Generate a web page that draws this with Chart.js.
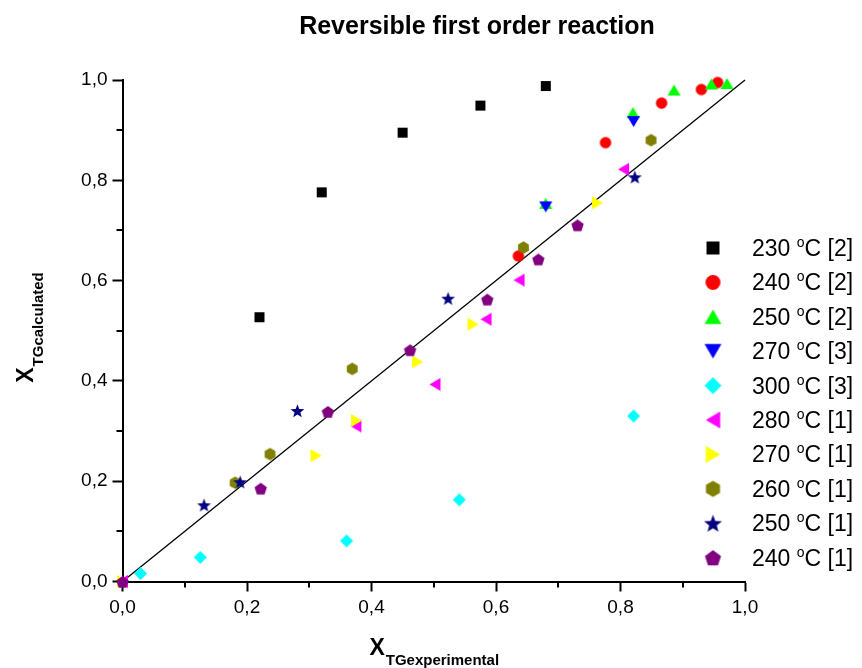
<!DOCTYPE html>
<html>
<head>
<meta charset="utf-8">
<script src="https://cdn.jsdelivr.net/npm/chart.js@4.4.0/dist/chart.umd.min.js"></script>
<style>
  html, body { margin: 0; padding: 0; background: #fff; }
  canvas { display: block; }
</style>
</head>
<body>
<canvas id="chart" width="862" height="668"></canvas>
<script>
'use strict'

// series, in legend order
const temps = [230, 240, 250, 270, 300, 280, 270, 260, 250, 240]
const refs = [2, 2, 2, 3, 3, 1, 1, 1, 1, 1]
const colors = ['#000000', '#ff0000', '#00ff00', '#0000ff', '#00ffff', '#ff00ff', '#ffff00', '#808000', '#000080', '#800080']
const shapes = ['square', 'circle', 'up', 'down', 'diamond', 'left', 'right', 'hexagon', 'star', 'pentagon']

const x230_2 = [0.220, 0.320, 0.450, 0.575, 0.680]
const y230_2 = [0.527, 0.776, 0.895, 0.949, 0.988]

const x240_2 = [0.636, 0.776, 0.866, 0.930, 0.956]
const y240_2 = [0.649, 0.875, 0.954, 0.981, 0.995]

const x250_2 = [0.680, 0.820, 0.886, 0.946, 0.971]
const y250_2 = [0.754, 0.935, 0.980, 0.992, 0.993]

const x270_3 = [0.680, 0.821]
const y270_3 = [0.747, 0.917]

const x300_3 = [0.029, 0.125, 0.360, 0.541, 0.821]
const y300_3 = [0.016, 0.048, 0.081, 0.163, 0.330]

const x280_1 = [0.000, 0.375, 0.502, 0.584, 0.637, 0.805]
const y280_1 = [0.000, 0.310, 0.393, 0.523, 0.601, 0.822]

const x270_1 = [0.000, 0.311, 0.376, 0.474, 0.563, 0.763]
const y270_1 = [0.000, 0.251, 0.321, 0.438, 0.513, 0.755]

const x260_1 = [0.181, 0.237, 0.369, 0.644, 0.849]
const y260_1 = [0.197, 0.254, 0.424, 0.666, 0.880]

const x250_1 = [0.131, 0.189, 0.281, 0.523, 0.823]
const y250_1 = [0.153, 0.199, 0.341, 0.565, 0.807]

const x240_1 = [0.000, 0.222, 0.330, 0.462, 0.586, 0.668, 0.731]
const y240_1 = [0.000, 0.186, 0.339, 0.462, 0.563, 0.643, 0.711]

const xs = [x230_2, x240_2, x250_2, x270_3, x300_3, x280_1, x270_1, x260_1, x250_1, x240_1]
const ys = [y230_2, y240_2, y250_2, y270_3, y300_3, y280_1, y270_1, y260_1, y250_1, y240_1]

// y = x reference line
const lineX = [0, 1]
const lineY = [0, 1]

const majorTicks = [0, 0.2, 0.4, 0.6, 0.8, 1.0]
const minorTicks = [0.1, 0.3, 0.5, 0.7, 0.9]

const FONT = '"Liberation Sans", Arial, Helvetica, sans-serif'

const markerSize = {square: 10, circle: 11.5, up: 13, down: 13, diamond: 13, left: 13, right: 13, hexagon: 12.5, star: 14.5, pentagon: 13}

function makeMarker(shape, color, s) {
    const c = document.createElement('canvas')
    c.width = c.height = Math.ceil(s) + 4
    const g = c.getContext('2d')
    const m = c.width / 2
    const h = s / 2
    g.fillStyle = color
    g.beginPath()
    if (shape === 'square') {
        g.rect(m - h, m - h, s, s)
    } else if (shape === 'circle') {
        g.arc(m, m, h, 0, Math.PI * 2)
    } else if (shape === 'up') {
        g.moveTo(m, m - h * 0.85); g.lineTo(m + h, m + h * 0.85); g.lineTo(m - h, m + h * 0.85)
    } else if (shape === 'down') {
        g.moveTo(m, m + h * 0.85); g.lineTo(m + h, m - h * 0.85); g.lineTo(m - h, m - h * 0.85)
    } else if (shape === 'left') {
        g.moveTo(m - h * 0.85, m); g.lineTo(m + h * 0.85, m - h); g.lineTo(m + h * 0.85, m + h)
    } else if (shape === 'right') {
        g.moveTo(m + h * 0.85, m); g.lineTo(m - h * 0.85, m - h); g.lineTo(m - h * 0.85, m + h)
    } else if (shape === 'diamond') {
        g.moveTo(m, m - h); g.lineTo(m + h, m); g.lineTo(m, m + h); g.lineTo(m - h, m)
    } else if (shape === 'hexagon') {
        for (let k = 0; k < 6; k++) {
            const a = -Math.PI / 2 + k * Math.PI / 3
            g.lineTo(m + h * Math.cos(a), m + h * Math.sin(a))
        }
    } else if (shape === 'pentagon') {
        for (let k = 0; k < 5; k++) {
            const a = -Math.PI / 2 + k * 2 * Math.PI / 5
            g.lineTo(m + h * Math.cos(a), m + 1 + h * Math.sin(a))
        }
    } else if (shape === 'star') {
        for (let k = 0; k < 10; k++) {
            const a = -Math.PI / 2 + k * Math.PI / 5
            const r = k % 2 === 0 ? h : h * 0.42
            g.lineTo(m + r * Math.cos(a), m + 1 + r * Math.sin(a))
        }
    }
    g.closePath()
    g.fill()
    return c
}

const pointMarkers = shapes.map((s, i) => makeMarker(s, colors[i], markerSize[s]))
const legendMarkers = shapes.map((s, i) => makeMarker(s, colors[i], markerSize[s] * 1.3))

const datasets = xs.map((xv, i) => ({
    type: 'scatter',
    label: temps[i] + ' °C [' + refs[i] + ']',
    data: xv.map((x, j) => ({x: x, y: ys[i][j]})),
    pointStyle: pointMarkers[i],
    pointRadius: 6,
    clip: false,
    order: xs.length - i   // later series on top
}))

datasets.push({
    type: 'line',
    label: 'y = x',
    data: lineX.map((x, j) => ({x: x, y: lineY[j]})),
    borderColor: '#000',
    borderWidth: 1.3,
    pointRadius: 0,
    fill: false,
    clip: false,
    order: 100
})

const decorations = {
    id: 'decorations',
    afterDraw(chart) {
        const {ctx, chartArea, scales} = chart
        ctx.save()

        // minor ticks
        ctx.strokeStyle = '#000'
        ctx.lineWidth = 2
        minorTicks.forEach(v => {
            const px = Math.round(scales.x.getPixelForValue(v))
            ctx.beginPath(); ctx.moveTo(px, chartArea.bottom); ctx.lineTo(px, chartArea.bottom + 6); ctx.stroke()
            const py = Math.round(scales.y.getPixelForValue(v))
            ctx.beginPath(); ctx.moveTo(chartArea.left, py); ctx.lineTo(chartArea.left - 6, py); ctx.stroke()
        })

        ctx.fillStyle = '#000'
        ctx.textBaseline = 'alphabetic'

        // title
        ctx.font = 'bold 25px ' + FONT
        ctx.textAlign = 'center'
        ctx.fillText('Reversible first order reaction', 477, 34)

        // x axis title with subscript
        ctx.textAlign = 'left'
        ctx.font = 'bold 23px ' + FONT
        const wX = ctx.measureText('X').width
        ctx.font = 'bold 15px ' + FONT
        const wSubX = ctx.measureText('TGexperimental').width
        let sx = (chartArea.left + chartArea.right) / 2 - (wX + wSubX) / 2
        ctx.font = 'bold 23px ' + FONT
        ctx.fillText('X', sx, 655)
        ctx.font = 'bold 15px ' + FONT
        ctx.fillText('TGexperimental', sx + wX + 1, 665)

        // y axis title, rotated
        ctx.font = 'bold 15px ' + FONT
        const wSubY = ctx.measureText('TGcalculated').width
        ctx.save()
        ctx.translate(33, 328 + (wX + wSubY) / 2)
        ctx.rotate(-Math.PI / 2)
        ctx.font = 'bold 23px ' + FONT
        ctx.fillText('X', 0, 0)
        ctx.font = 'bold 15px ' + FONT
        ctx.fillText('TGcalculated', wX + 1, 10)
        ctx.restore()

        // legend
        chart.data.datasets.forEach((ds, i) => {
            if (i >= temps.length) return
            const y = 248 + i * 34.4
            const mk = legendMarkers[i]
            ctx.drawImage(mk, 713 - mk.width / 2, y - mk.height / 2)
            let tx = 752
            ctx.font = '23px ' + FONT
            const t1 = temps[i] + ' '
            ctx.fillText(t1, tx, y + 8)
            tx += ctx.measureText(t1).width
            ctx.font = '14px ' + FONT
            ctx.fillText('o', tx, y - 1)
            tx += ctx.measureText('o').width
            ctx.font = '23px ' + FONT
            ctx.fillText('C [' + refs[i] + ']', tx, y + 8)
        })

        ctx.restore()
    }
}

const tickFormat = v => v.toFixed(1).replace('.', ',')

new Chart(document.getElementById('chart'), {
    data: {datasets: datasets},
    options: {
        responsive: false,
        animation: false,
        devicePixelRatio: 1,
        events: [],
        layout: {padding: {left: 0, right: 117, top: 80, bottom: 0}},
        plugins: {
            legend: {display: false},
            tooltip: {enabled: false},
            title: {display: false}
        },
        scales: {
            x: {
                type: 'linear',
                min: 0,
                max: 1,
                afterBuildTicks: scale => { scale.ticks = majorTicks.map(v => ({value: v})) },
                afterFit: scale => { scale.height = 86.5 },
                ticks: {
                    callback: tickFormat,
                    color: '#000',
                    padding: 5,
                    maxRotation: 0,
                    font: {family: FONT, size: 19}
                },
                grid: {drawOnChartArea: false, drawTicks: true, tickLength: 10, tickColor: '#000', tickWidth: 2},
                border: {display: true, color: '#000', width: 2}
            },
            y: {
                type: 'linear',
                min: 0,
                max: 1,
                afterBuildTicks: scale => { scale.ticks = majorTicks.map(v => ({value: v})) },
                afterFit: scale => { scale.width = 122.5 },
                ticks: {
                    callback: tickFormat,
                    color: '#000',
                    padding: 5,
                    font: {family: FONT, size: 19}
                },
                grid: {drawOnChartArea: false, drawTicks: true, tickLength: 10, tickColor: '#000', tickWidth: 2},
                border: {display: true, color: '#000', width: 2}
            }
        }
    },
    plugins: [decorations]
})
</script>
</body>
</html>
